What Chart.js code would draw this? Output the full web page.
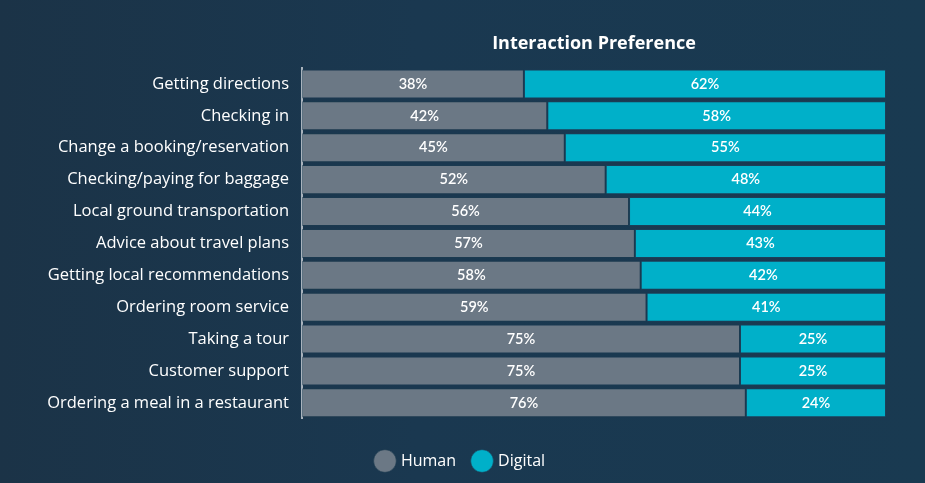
<!DOCTYPE html>
<html>
<head>
<meta charset="utf-8">
<script src="https://cdn.jsdelivr.net/npm/chart.js@4.4.1/dist/chart.umd.min.js"></script>
<style>
  html, body { margin: 0; padding: 0; }
  body {
    width: 925px; height: 483px; overflow: hidden;
    background: linear-gradient(90deg, #1b3347 0%, #1a3850 45%, #193a51 100%);
  }
  #wrap { position: relative; width: 925px; height: 483px; }
</style>
</head>
<body>
<div id="wrap"><canvas id="prefChart"></canvas></div>
<script>
var categories = [
  'Getting directions',
  'Checking in',
  'Change a booking/reservation',
  'Checking/paying for baggage',
  'Local ground transportation',
  'Advice about travel plans',
  'Getting local recommendations',
  'Ordering room service',
  'Taking a tour',
  'Customer support',
  'Ordering a meal in a restaurant'
];
var humanValues = [38, 42, 45, 52, 56, 57, 58, 59, 75, 75, 76];
var digitalValues = [62, 58, 55, 48, 44, 43, 42, 41, 25, 25, 24];
var seriesNames = ['Human', 'Digital'];
var chartTitle = 'Interaction Preference';

var humanColour = '#6b7885',
    digitalColour = '#00b0c9';

// draws the % inside each bar segment, centred
var barLabels = {
  id: 'barLabels',
  afterDatasetsDraw: function(chart) {
    var ctx = chart.ctx;
    ctx.save();
    ctx.fillStyle = '#ffffff';
    ctx.font = '600 14.5px Lato';
    ctx.textAlign = 'center';
    ctx.textBaseline = 'middle';
    chart.data.datasets.forEach(function(ds, i) {
      var meta = chart.getDatasetMeta(i);
      meta.data.forEach(function(bar, j) {
        var x = (bar.x + bar.base) / 2;
        ctx.fillText(ds.data[j] + '%', x, bar.y);
      });
    });
    ctx.restore();
  }
};

// title centred over the plot area rather than the whole canvas
var areaTitle = {
  id: 'areaTitle',
  afterDraw: function(chart) {
    var ctx = chart.ctx, a = chart.chartArea;
    ctx.save();
    ctx.fillStyle = '#ffffff';
    ctx.font = 'bold 18px "Open Sans"';
    ctx.textAlign = 'center';
    ctx.textBaseline = 'middle';
    ctx.fillText(chartTitle, (a.left + a.right) / 2, 44);
    ctx.restore();
  }
};

var ctx = document.getElementById('prefChart').getContext('2d');
var myChart = new Chart(ctx, {
  type: 'bar',
  data: {
    labels: categories,
    datasets: [{
      label: seriesNames[0],
      data: humanValues,
      backgroundColor: humanColour,
      borderColor: 'rgba(30,60,80,0.55)',
      borderWidth: 1,
      borderSkipped: false,
      barPercentage: 0.91,
      categoryPercentage: 1
    }, {
      label: seriesNames[1],
      data: digitalValues,
      backgroundColor: digitalColour,
      borderColor: 'rgba(30,70,95,0.55)',
      borderWidth: 1,
      borderSkipped: false,
      barPercentage: 0.91,
      categoryPercentage: 1
    }]
  },
  options: {
    indexAxis: 'y',
    responsive: true,
    maintainAspectRatio: false,
    animation: false,
    layout: {
      padding: { top: 68, right: 39, left: 36, bottom: 4 }
    },
    scales: {
      x: {
        stacked: true,
        min: 0,
        max: 100,
        display: false
      },
      y: {
        stacked: true,
        afterFit: function(scale) { scale.width = 266; },
        grid: { display: false, drawTicks: false },
        border: { display: true, color: '#a9b3bd', width: 2 },
        ticks: {
          color: '#ffffff',
          padding: 13,
          font: { family: 'Open Sans', size: 16.5 }
        }
      }
    },
    plugins: {
      title: { display: false },
      tooltip: { enabled: false },
      legend: {
        display: true,
        position: 'bottom',
        // empty legend title only used as spacer above the items
        title: {
          display: true,
          text: '',
          font: { size: 1 },
          padding: { top: 0, bottom: 15 }
        },
        labels: {
          color: '#ffffff',
          usePointStyle: true,
          pointStyle: 'circle',
          boxWidth: 16,
          boxHeight: 16,
          padding: 18,
          font: { family: 'Open Sans', size: 16 }
        }
      }
    }
  },
  plugins: [barLabels, areaTitle]
});
</script>
</body>
</html>
